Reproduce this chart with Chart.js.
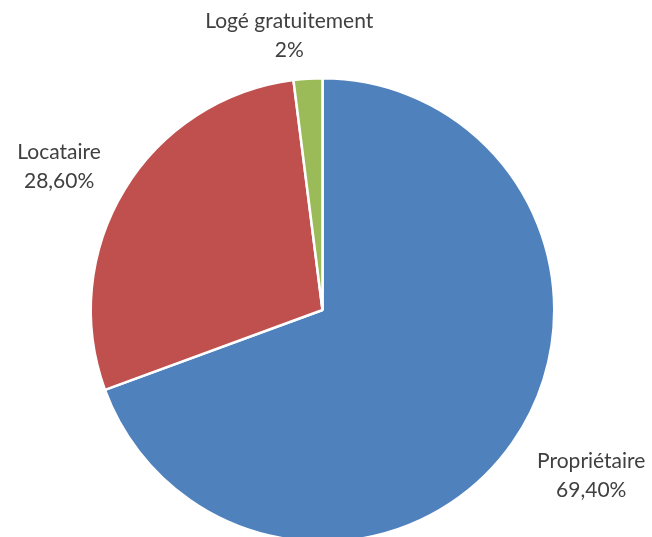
<!DOCTYPE html>
<html>
<head>
<meta charset="utf-8">
<script src="https://cdn.jsdelivr.net/npm/chart.js@4/dist/chart.umd.min.js"></script>
<style>
  html, body { margin: 0; padding: 0; background: #fff; overflow: hidden; }
  #wrap { position: relative; width: 652px; height: 560px; }
</style>
</head>
<body>
<div id="wrap"><canvas id="c" width="652" height="560"></canvas></div>
<script>
// Statut d'occupation des ménages
const categories = ['Propriétaire', 'Locataire', 'Logé gratuitement'];
const shares = [69.4, 28.6, 2];
const shareLabels = ['69,40%', '28,60%', '2%'];
const sliceColors = ['#4F81BD', '#C0504D', '#9BBB59'];
const titleText = "Statut d'occupation du logement des ménages";

// label block placement: distance from the centre (× radius) and a small nudge in px
const labelDistance = [1.33, 1.29, 1.185];
const labelNudge = [[16, -11], [-8, 12], [-16, -1]];

const FONT = 'Lato, "Noto Sans", sans-serif';

const outsideLabels = {
  id: 'outsideLabels',
  afterDraw(chart) {
    const ctx = chart.ctx;
    const meta = chart.getDatasetMeta(0);
    ctx.save();
    ctx.fillStyle = '#404040';
    ctx.textAlign = 'center';
    ctx.textBaseline = 'middle';
    ctx.font = '21px ' + FONT;
    meta.data.forEach((arc, i) => {
      const p = arc.getProps(['x', 'y', 'startAngle', 'endAngle', 'outerRadius'], true);
      const mid = (p.startAngle + p.endAngle) / 2;
      const d = p.outerRadius * labelDistance[i];
      const cx = p.x + Math.cos(mid) * d + labelNudge[i][0];
      const cy = p.y + Math.sin(mid) * d + labelNudge[i][1];
      ctx.fillText(categories[i], cx, cy - 14);
      ctx.fillText(shareLabels[i], cx, cy + 15);
    });
    // chart title, sitting above the visible area
    ctx.fillStyle = '#000';
    ctx.font = 'bold 26px ' + FONT;
    ctx.textBaseline = 'alphabetic';
    ctx.fillText(titleText, 326, -6);
    ctx.restore();
  }
};

new Chart(document.getElementById('c'), {
  type: 'pie',
  data: {
    labels: categories,
    datasets: [{
      data: shares,
      backgroundColor: sliceColors,
      borderColor: '#ffffff',
      borderWidth: 2.5
    }]
  },
  options: {
    responsive: false,
    animation: false,
    layout: { padding: { top: 77, bottom: 17, left: 89, right: 96 } },
    plugins: {
      legend: { display: false },
      title: { display: false },
      tooltip: { enabled: false }
    }
  },
  plugins: [outsideLabels]
});
</script>
</body>
</html>
